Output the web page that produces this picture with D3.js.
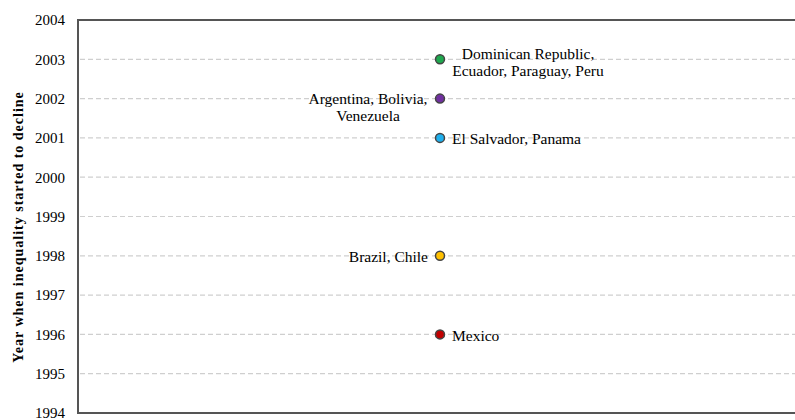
<!DOCTYPE html>
<html>
<head>
<meta charset="utf-8">
<script src="https://cdn.jsdelivr.net/npm/d3@7"></script>
<style>
  body { margin: 0; background: #fff; }
  text { font-family: "Liberation Serif", "Times New Roman", serif; }
</style>
</head>
<body>
<svg id="chart" width="795" height="420"></svg>
<script>
// year in which inequality started to decline, by country group
const groups = [
  ["Dominican Republic,", "Ecuador, Paraguay, Peru"],
  ["Argentina, Bolivia,", "Venezuela"],
  ["El Salvador, Panama"],
  ["Brazil, Chile"],
  ["Mexico"]
];
const years = [2003, 2002, 2001, 1998, 1996];
const yTicks = [1994, 1995, 1996, 1997, 1998, 1999, 2000, 2001, 2002, 2003, 2004];

// styling, kept apart from the data
const dotColors = ["#1fa84f", "#7030a0", "#1fb0ee", "#ffc000", "#c00000"];
const labelSide = ["right", "left", "right", "left", "right"];

const svg = d3.select("#chart");
const mLeft = 78, mTop = 20, mBottom = 413, mRight = 802;

const y = d3.scaleLinear().domain([1994, 2004]).range([mBottom, mTop]);
const x = d3.scaleLinear().domain([0, 1]).range([mLeft, mRight]);

// gridlines
svg.append("g")
  .selectAll("line")
  .data(yTicks.filter(t => t > 1994 && t < 2004))
  .join("line")
  .attr("x1", mLeft + 2)
  .attr("x2", mRight)
  .attr("y1", d => y(d))
  .attr("y2", d => y(d))
  .attr("stroke", "#cfcfcf")
  .attr("stroke-width", 1.2)
  .attr("stroke-dasharray", "5,3");

// y axis labels
const yAxis = d3.axisLeft(y).tickValues(yTicks).tickFormat(d3.format("d")).tickSize(0).tickPadding(13);
const ga = svg.append("g").attr("transform", `translate(${mLeft},0)`).call(yAxis);
ga.select(".domain").remove();
ga.selectAll("text")
  .style("font-family", "'Liberation Serif', serif")
  .attr("font-size", 15)
  .attr("fill", "#000");

// frame: left, top, bottom
svg.append("path")
  .attr("d", `M${mRight},${mTop}H${mLeft}V${mBottom}H${mRight}`)
  .attr("fill", "none")
  .attr("stroke", "#555")
  .attr("stroke-width", 2);

// axis title
svg.append("text")
  .attr("transform", `translate(23,227) rotate(-90)`)
  .attr("text-anchor", "middle")
  .attr("font-weight", "bold")
  .attr("font-size", 14)
  .attr("letter-spacing", 1)
  .text("Year when inequality started to decline");

// dots
const cx = x(0.5);
svg.append("g")
  .selectAll("circle")
  .data(years)
  .join("circle")
  .attr("cx", cx)
  .attr("cy", d => y(d))
  .attr("r", 4.5)
  .attr("fill", (d, i) => dotColors[i])
  .attr("stroke", "#444")
  .attr("stroke-width", 1.5);

// labels
const lineH = 17;
years.forEach((yr, i) => {
  const lines = groups[i];
  const side = labelSide[i];
  const n = lines.length;
  let tx, anchor, y0;
  if (n === 1) {
    anchor = side === "right" ? "start" : "end";
    tx = side === "right" ? cx + 12 : cx - 12;
    y0 = y(yr) + 1;
  } else {
    anchor = "middle";
    tx = side === "right" ? cx + 88 : cx - 72;
    y0 = side === "right" ? y(yr) + 3 : y(yr) + 8;
  }
  const t = svg.append("text")
    .attr("text-anchor", anchor)
    .attr("font-size", 15.5)
    .attr("fill", "#000");
  lines.forEach((s, j) => {
    t.append("tspan")
      .attr("x", tx)
      .attr("y", y0 + (j - (n - 1) / 2) * lineH)
      .attr("dy", "0.35em")
      .text(s);
  });
});
</script>
</body>
</html>
